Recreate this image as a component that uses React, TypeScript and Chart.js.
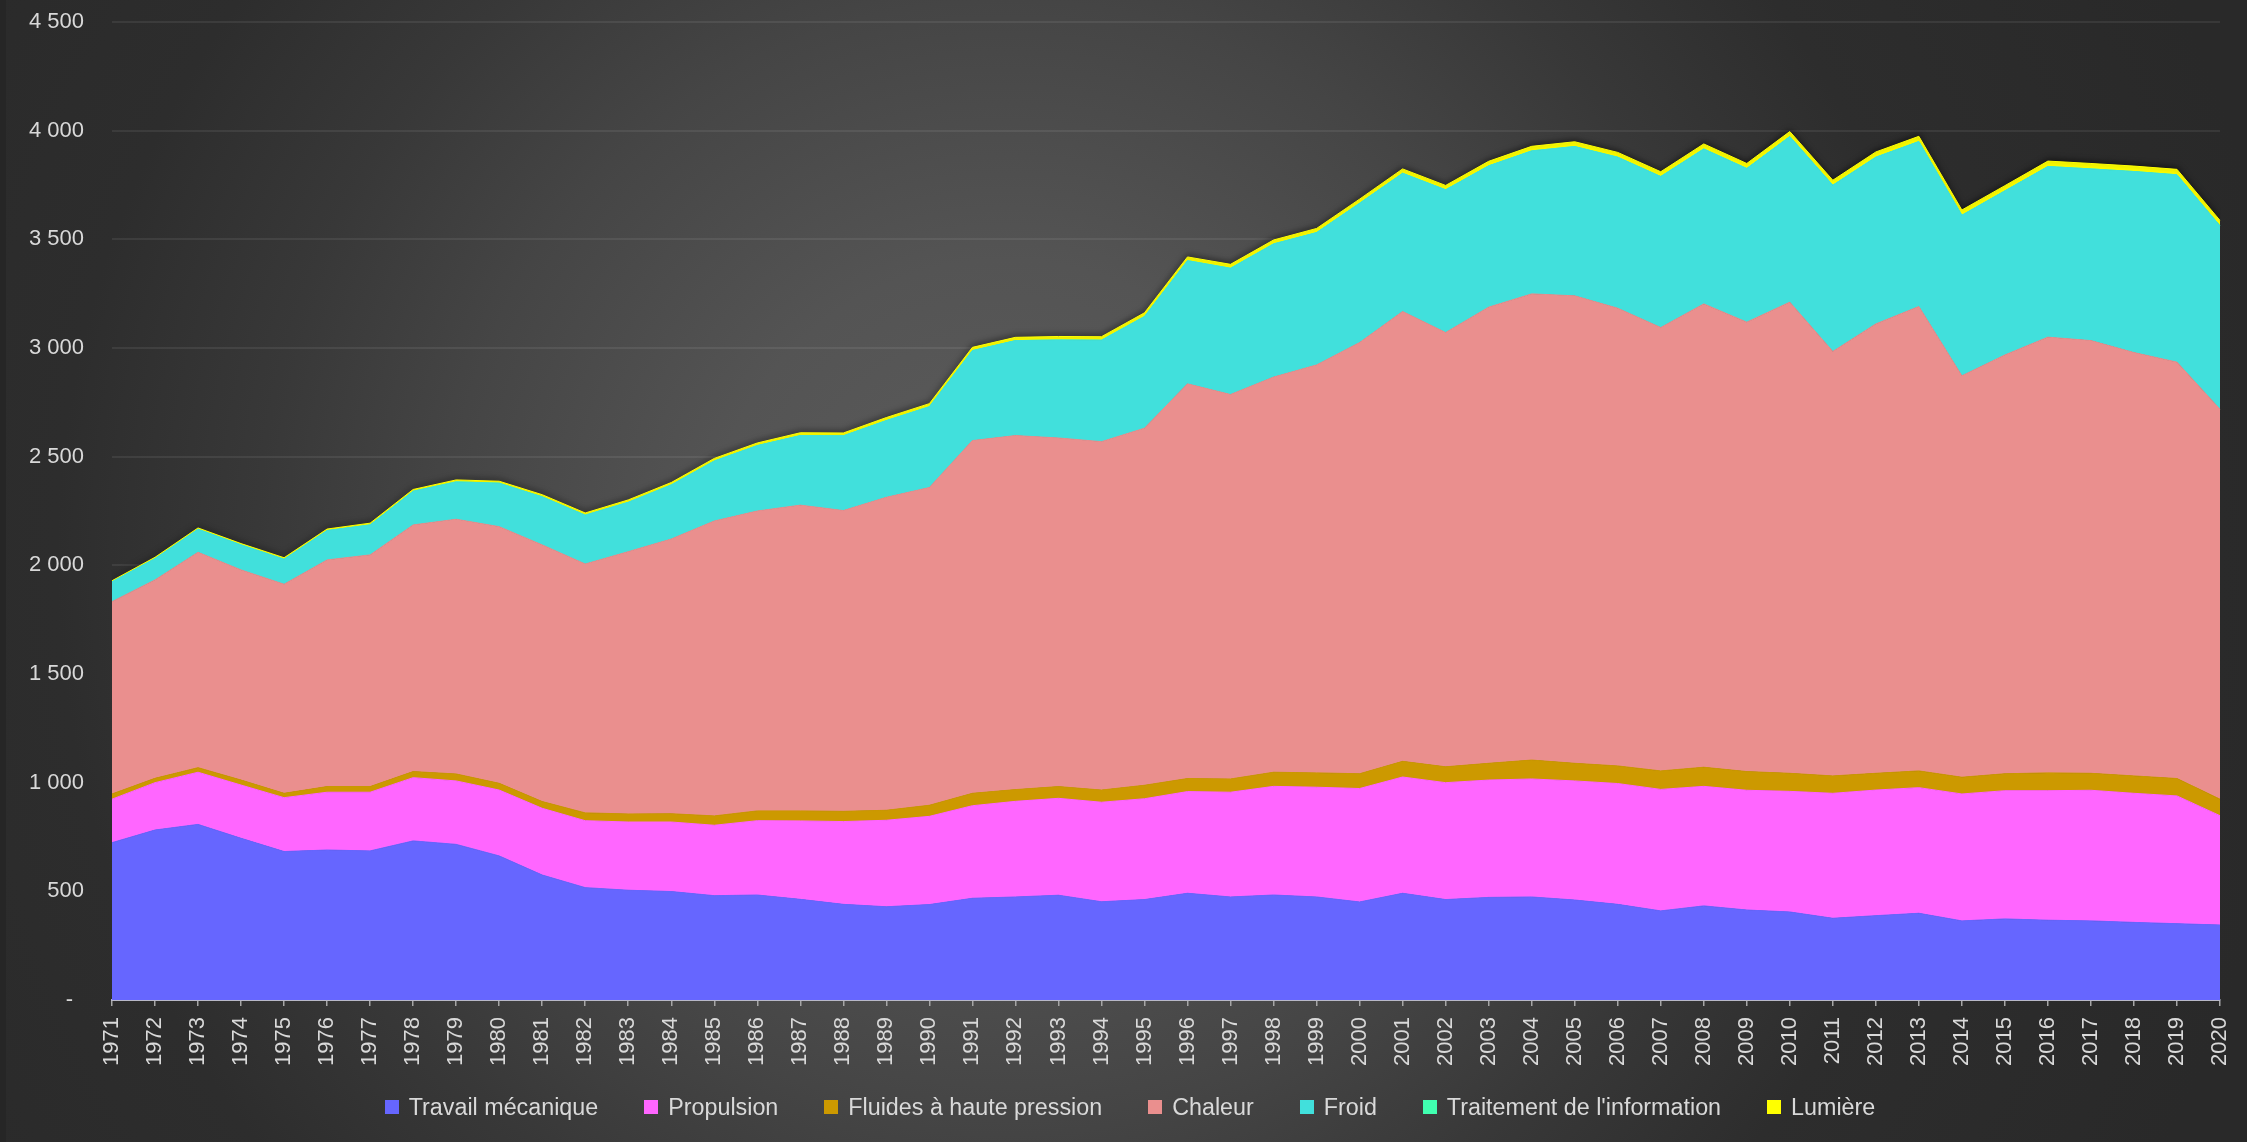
import React, { useEffect, useRef } from 'react';
import { Chart, registerables } from 'chart.js';

const years = [
  '1971', '1972', '1973', '1974', '1975', '1976', '1977', '1978', '1979', '1980',
  '1981', '1982', '1983', '1984', '1985', '1986', '1987', '1988', '1989', '1990',
  '1991', '1992', '1993', '1994', '1995', '1996', '1997', '1998', '1999', '2000',
  '2001', '2002', '2003', '2004', '2005', '2006', '2007', '2008', '2009', '2010',
  '2011', '2012', '2013', '2014', '2015', '2016', '2017', '2018', '2019', '2020',
];

const travailMecanique = [
  724, 782, 808, 744, 683, 690, 686, 732, 716, 663,
  575, 517, 505, 499, 480, 483, 463, 440, 429, 439,
  468, 474, 482, 452, 462, 491, 474, 483, 474, 451,
  491, 462, 472, 474, 460, 440, 410, 433, 414, 405,
  376, 388, 399, 364, 373, 367, 364, 357, 351, 345,
];

const propulsion = [
  200, 218, 240, 245, 248, 266, 270, 291, 292, 303,
  307, 308, 314, 320, 324, 342, 361, 381, 398, 406,
  426, 440, 446, 458, 464, 468, 482, 500, 505, 522,
  535, 538, 540, 543, 548, 556, 559, 550, 551, 555,
  575, 578, 578, 584, 590, 596, 601, 594, 588, 503,
];

const fluidesHautePression = [
  24, 20, 21, 23, 20, 26, 26, 28, 32, 31,
  31, 36, 37, 38, 43, 45, 46, 47, 46, 51,
  57, 54, 54, 56, 62, 60, 61, 65, 66, 68,
  72, 73, 77, 87, 81, 81, 85, 88, 86, 83,
  80, 77, 77, 77, 78, 82, 78, 80, 80, 76,
];

const chaleur = [
  885, 913, 991, 967, 962, 1043, 1066, 1135, 1172, 1181,
  1181, 1145, 1207, 1264, 1357, 1380, 1407, 1384, 1440, 1462,
  1623, 1629, 1604, 1603, 1643, 1816, 1769, 1818, 1877, 1984,
  2070, 1998, 2099, 2145, 2151, 2106, 2040, 2132, 2068, 2168,
  1953, 2068, 2137, 1847, 1927, 2005, 1991, 1948, 1916, 1794,
];

const froid = [
  91, 98, 106, 115, 115, 135, 138, 155, 172, 200,
  221, 225, 227, 249, 276, 301, 320, 344, 353, 372,
  414, 437, 451, 467, 514, 567, 581, 613, 609, 641,
  636, 657, 650, 658, 687, 695, 695, 713, 707, 762,
  765, 767, 759, 739, 755, 785, 790, 833, 862, 844,
];

const traitementInformation = [
  0, 0, 0, 0, 0, 0, 0, 0, 0, 0,
  0, 0, 0, 0, 0, 0, 0, 0, 0, 0,
  0, 0, 0, 0, 0, 0, 0, 0, 0, 0,
  0, 0, 0, 0, 0, 0, 0, 0, 0, 0,
  0, 0, 0, 0, 0, 0, 0, 0, 0, 0,
];

const lumiere = [
  5, 6, 6, 6, 7, 7, 8, 8, 9, 9,
  10, 10, 11, 11, 12, 12, 13, 13, 14, 14,
  15, 15, 16, 16, 17, 17, 18, 18, 19, 19,
  20, 20, 21, 21, 22, 22, 22, 23, 23, 23,
  23, 24, 24, 24, 24, 25, 25, 25, 25, 25,
];

const seriesNames = [
  'Travail mécanique',
  'Propulsion',
  'Fluides à haute pression',
  'Chaleur',
  'Froid',
  "Traitement de l'information",
  'Lumière',
];

const seriesColors = ['#6666FF', '#FF66FF', '#CC9900', '#EA8F8E', '#41E0DC', '#40FFB0', '#FFFF00'];

const seriesValues = [
  travailMecanique,
  propulsion,
  fluidesHautePression,
  chaleur,
  froid,
  traitementInformation,
  lumiere,
];

const FONT = "'Liberation Sans', Arial, sans-serif";
const TEXT_COLOR = '#d9d9d9';

// Soft dark shadow above the top (Lumière) layer; registered before the filler
// so the shadow state is active while the fill is painted.
const topShadowPlugin = {
  id: 'topShadow',
  beforeDatasetDraw(chart: any, args: any) {
    if (args.index === seriesNames.length - 1) {
      const ctx = chart.ctx;
      ctx.save();
      ctx.shadowColor = 'rgba(0,0,0,0.6)';
      ctx.shadowBlur = 6;
      ctx.shadowOffsetX = 0;
      ctx.shadowOffsetY = -1;
    }
  },
  afterDatasetDraw(chart: any, args: any) {
    if (args.index === seriesNames.length - 1) {
      chart.ctx.restore();
    }
  },
};

Chart.register(topShadowPlugin);
Chart.register(...registerables);

function formatTick(v: number): string {
  if (v === 0) return '-\u2002';
  const s = Math.round(v).toString();
  return s.replace(/\B(?=(\d{3})+(?!\d))/g, ' ');
}

export default function App() {
  const canvasRef = useRef<HTMLCanvasElement>(null);

  useEffect(() => {
    const canvas = canvasRef.current;
    if (!canvas) return;
    const chart = new Chart(canvas, {
      type: 'line',
      data: {
        labels: years,
        datasets: seriesNames.map((name, i) => ({
          label: name,
          data: seriesValues[i],
          backgroundColor: seriesColors[i],
          borderColor: seriesColors[i],
          borderWidth: 1,
          pointRadius: 0,
          pointHoverRadius: 0,
          tension: 0,
          fill: i === 0 ? 'origin' : '-1',
        })),
      },
      options: {
        responsive: false,
        animation: false,
        layout: { padding: { top: 22, left: 0, right: 20, bottom: 0 } },
        plugins: {
          legend: { display: false },
          tooltip: { enabled: false },
        },
        font: { family: FONT, size: 22 },
        scales: {
          x: {
            type: 'category',
            offset: false,
            afterFit: (s: any) => {
              s.height = 142;
              s.paddingLeft = 0;
              s.paddingRight = 0;
            },
            grid: {
              display: true,
              drawOnChartArea: false,
              drawTicks: true,
              tickLength: 6,
              color: '#a6a6a6',
              lineWidth: 1.5,
            },
            border: { display: true, color: '#b8b8c8', width: 2 },
            ticks: {
              autoSkip: false,
              minRotation: 90,
              maxRotation: 90,
              padding: 11,
              color: TEXT_COLOR,
              font: { family: FONT, size: 22 },
            },
          },
          y: {
            stacked: true,
            min: 0,
            max: 4500,
            afterFit: (s: any) => {
              s.width = 106;
              s.paddingTop = 0;
              s.paddingBottom = 0;
            },
            grid: {
              color: 'rgba(255,255,255,0.075)',
              lineWidth: 2,
              drawTicks: false,
            },
            border: { display: false },
            ticks: {
              stepSize: 500,
              padding: 28,
              color: TEXT_COLOR,
              font: { family: FONT, size: 22 },
              callback: (v: any) => formatTick(Number(v)),
            },
          },
        },
      } as any,
    });
    return () => chart.destroy();
  }, []);

  return (
    <>
      <style>{`html,body{margin:0;padding:0;background:#262626;overflow:hidden;}`}</style>
      <div
        style={{
          position: 'relative',
          marginLeft: 6,
          width: 2234,
          height: 1142,
          background:
            'radial-gradient(circle at 1000px 560px, #5c5c5c 0px, #545454 300px, #454545 560px, #383838 750px, #2d2d2d 950px, #292929 1300px)',
        }}
      >
        <canvas
          ref={canvasRef}
          width={2234}
          height={1142}
          style={{ position: 'absolute', left: 0, top: 0, width: 2234, height: 1142 }}
        />
        <div
          style={{
            position: 'absolute',
            left: 0,
            top: 1095,
            width: 2234,
            height: 24,
            paddingLeft: 14,
            boxSizing: 'border-box',
            display: 'flex',
            justifyContent: 'center',
            alignItems: 'center',
            gap: 46,
            fontFamily: FONT,
            fontSize: 23.3,
            lineHeight: '24px',
            color: TEXT_COLOR,
            whiteSpace: 'nowrap',
          }}
        >
          {seriesNames.map((name, i) => (
            <div key={name} style={{ display: 'flex', alignItems: 'center' }}>
              <span
                style={{
                  display: 'inline-block',
                  width: 14,
                  height: 14,
                  background: seriesColors[i],
                  marginRight: 10,
                }}
              />
              <span>{name}</span>
            </div>
          ))}
        </div>
      </div>
    </>
  );
}
